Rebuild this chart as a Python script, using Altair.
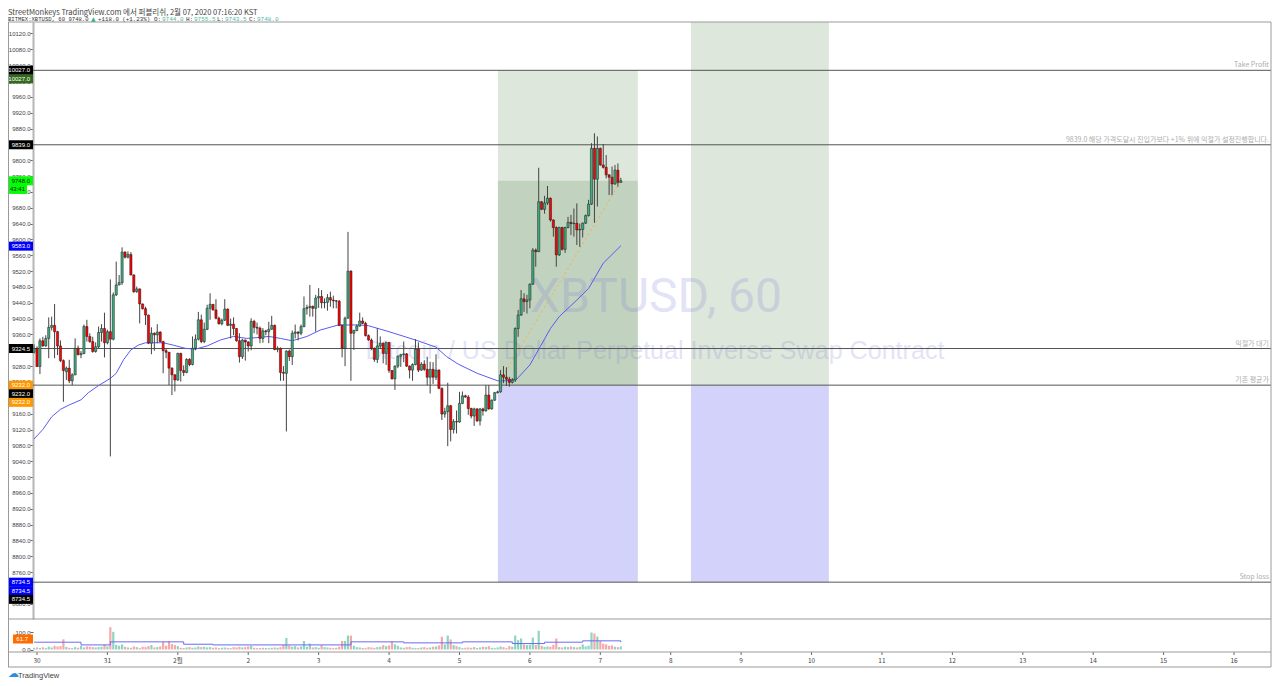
import altair as alt
import pandas as pd

OPEN = [
9315,9325,9279,9344,9331,9350,9378,9383,9367,9331,
9294,9266,9275,9243,9258,9325,9309,9312,9380,9355,
9342,9317,9329,9365,9375,9339,9367,9348,9460,9485,
9491,9568,9555,9562,9510,9468,9475,9437,9425,9409,
9338,9363,9359,9366,9342,9319,9315,9275,9258,9245,
9312,9269,9264,9297,9284,9325,9348,9397,9342,9373,
9426,9436,9422,9401,9387,9396,9424,9383,9386,9375,
9344,9304,9346,9341,9331,9393,9378,9376,9350,9369,
9367,9373,9383,9322,9325,9264,9262,9318,9304,9363,
9366,9363,9380,9425,9428,9431,9426,9452,9456,9440,
9441,9453,9447,9445,9444,9383,9325,9401,9520,9363,
9370,9381,9394,9388,9357,9346,9325,9297,9331,9338,
9312,9340,9269,9248,9280,9305,9309,9311,9280,9270,
9284,9323,9270,9285,9272,9252,9272,9252,9270,9224,
9159,9165,9180,9120,9140,9139,9186,9205,9202,9173,
9154,9172,9142,9172,9167,9207,9172,9194,9213,9215,
9258,9252,9247,9239,9245,9375,9409,9450,9443,9447,
9487,9573,9569,9695,9676,9692,9704,9649,9630,9561,
9630,9575,9630,9643,9640,9641,9624,9625,9641,9660,
9689,9830,9752,9830,9788,9782,9763,9757,9740,9775,9744]
HIGH = [
9335,9330,9350,9354,9358,9403,9405,9437,9369,9345,
9297,9279,9296,9262,9350,9332,9318,9385,9397,9363,
9354,9340,9380,9386,9415,9372,9499,9466,9544,9510,
9580,9570,9570,9568,9512,9481,9476,9438,9430,9410,
9378,9365,9386,9368,9344,9325,9316,9277,9260,9314,
9314,9282,9300,9300,9355,9360,9417,9410,9390,9435,
9464,9437,9449,9405,9400,9449,9426,9400,9403,9376,
9363,9349,9347,9343,9401,9397,9390,9380,9376,9372,
9392,9407,9385,9330,9327,9280,9320,9322,9370,9385,
9368,9385,9456,9435,9485,9433,9460,9477,9472,9451,
9462,9468,9458,9447,9447,9385,9405,9619,9522,9372,
9385,9415,9403,9392,9360,9350,9327,9376,9355,9340,
9342,9341,9270,9282,9307,9311,9342,9313,9282,9287,
9348,9340,9290,9295,9304,9291,9290,9310,9272,9226,
9175,9238,9182,9146,9168,9215,9216,9208,9207,9175,
9175,9174,9174,9175,9232,9232,9196,9215,9218,9270,
9280,9277,9253,9250,9378,9422,9472,9464,9460,9489,
9578,9577,9781,9697,9710,9735,9706,9651,9633,9632,
9632,9632,9657,9662,9678,9691,9640,9643,9663,9700,
9843,9868,9860,9832,9841,9813,9765,9784,9788,9792,9755.5]
LOW = [
9312,9278,9260,9329,9329,9300,9370,9300,9308,9290,
9190,9245,9237,9232,9257,9307,9300,9310,9342,9339,
9314,9314,9325,9342,9302,9335,9052,9345,9457,9484,
9485,9552,9552,9510,9465,9465,9388,9423,9384,9336,
9310,9319,9338,9340,9262,9300,9232,9207,9216,9243,
9241,9255,9262,9280,9282,9320,9345,9338,9338,9371,
9397,9420,9398,9385,9383,9394,9381,9350,9358,9342,
9289,9298,9294,9317,9320,9363,9360,9338,9339,9358,
9338,9372,9320,9315,9243,9243,9115,9293,9283,9350,
9345,9358,9378,9410,9405,9405,9367,9427,9426,9426,
9420,9430,9426,9426,9381,9302,9280,9400,9243,9321,
9368,9380,9386,9355,9344,9321,9291,9288,9323,9287,
9283,9263,9246,9220,9275,9278,9290,9278,9249,9243,
9282,9265,9268,9268,9232,9211,9235,9245,9222,9144,
9150,9078,9090,9110,9110,9137,9184,9200,9157,9148,
9129,9139,9130,9155,9165,9170,9170,9192,9211,9213,
9237,9230,9228,9236,9240,9354,9407,9417,9413,9426,
9485,9531,9568,9674,9665,9687,9645,9607,9531,9558,
9572,9566,9628,9611,9607,9586,9581,9605,9639,9658,
9687,9642,9683,9786,9779,9754,9712,9712,9738,9733,9743.5]
CLOSE = [
9325,9279,9344,9331,9350,9378,9383,9367,9331,9294,
9269,9275,9243,9258,9325,9309,9312,9380,9355,9342,
9317,9329,9365,9375,9339,9367,9348,9460,9485,9491,
9568,9555,9562,9510,9468,9475,9437,9425,9409,9338,
9363,9359,9366,9342,9319,9315,9275,9258,9245,9312,
9269,9264,9297,9284,9325,9348,9397,9342,9373,9426,
9436,9422,9401,9387,9396,9424,9383,9386,9375,9344,
9304,9346,9341,9331,9393,9378,9376,9350,9369,9367,
9373,9383,9322,9325,9264,9262,9318,9304,9363,9366,
9363,9380,9425,9428,9431,9426,9452,9456,9440,9441,
9453,9447,9445,9444,9383,9325,9401,9520,9363,9370,
9381,9394,9388,9357,9346,9325,9297,9331,9338,9312,
9340,9269,9248,9280,9305,9309,9311,9280,9270,9284,
9323,9270,9285,9272,9252,9272,9252,9270,9224,9159,
9165,9180,9120,9140,9139,9186,9205,9202,9173,9154,
9172,9142,9172,9167,9207,9172,9194,9213,9215,9258,
9252,9247,9239,9245,9375,9409,9450,9443,9447,9487,
9573,9569,9695,9676,9692,9704,9649,9630,9561,9630,
9575,9630,9643,9640,9641,9624,9625,9641,9660,9689,
9830,9752,9830,9788,9782,9763,9757,9740,9775,9744,9748]
VOLUME = [
10,12,9,13,8,17,12,22,18,20,
60,15,10,8,14,10,22,12,18,16,
14,12,14,16,30,18,131,104,28,22,
30,16,12,10,18,14,8,16,14,20,
26,12,14,18,45,22,48,32,26,20,
10,9,12,14,10,12,18,14,16,12,
14,10,12,8,10,12,10,8,14,12,
16,12,14,18,22,10,8,9,10,9,
8,10,12,10,14,28,68,24,16,20,
12,18,50,16,35,12,14,10,26,14,
12,10,8,10,16,50,50,82,82,22,
14,12,9,8,14,12,10,14,16,26,
20,24,49,30,22,12,10,14,16,10,
8,9,12,14,10,12,16,18,24,75,
30,82,59,26,20,14,8,10,12,10,
14,9,12,16,14,20,10,8,12,18,
14,8,20,16,82,55,65,30,26,28,
70,26,110,22,14,18,16,28,65,14,
12,16,14,18,14,12,16,30,18,22,
100,94,76,50,34,30,22,24,16,14,18]
HOURS = list(range(-1, 200))

MA_HOUR = [-1,2,5,8,11,15,17.5,21,25,27,29.5,32,34.5,37,43,46.5,50.5,54,58,62.5,67,71.5,
           75,79,83,87,92,96.5,102.7,110,113,120,129,136,139.6,143.6,150,157,160,163.5,168,171.5,175,178,184,188,193,199]
MA_PRICE = [9096,9120,9152,9171,9182,9195,9213,9231,9249,9262,9296,9321,9333,9339,9339,9333,9325,9323,9331,9346,9355,9350,
            9352,9355,9350,9344,9355,9371,9384,9384,9382,9367,9346,9328,9304,9285,9262,9243,9243,9247,9283,9329,9375,9405,9447,9476,9540,9584]

VMA_HOUR = [-1,15,25,42,50,60,85,107,125,145,162,173,186,190,199]
VMA_VALUE = [43,27,45,45,31,27,27,45,39,45,35,43,51,51,43]

TREND_HOUR = [157, 199]
TREND_PRICE = [9232, 9748]

ZONE_X = [157.1, 157.1, 157.1, 222.9, 222.9]
ZONE_X2 = [204.8, 204.8, 204.8, 269.9, 269.9]
ZONE_LOW = [9232, 9232, 8734.5, 9232, 8734.5]
ZONE_HIGH = [10027, 9748, 9232, 10149, 9232]
ZONE_KIND = ["profit", "profit", "loss", "profit", "loss"]

LEVELS = [10027, 9839, 9324.5, 9232, 8734.5]
LEVEL_NOTE = ["Take Profit", "9839.0 해당 가격도달시 진입가보다 +1% 위에 익절가 설정진행합니다.", "익절가 대기", "기존 평균가", "Stop loss"]

TAG_PRICE = [10027, 10027, 9839, 9748, 9748, 9583, 9324.5, 9232, 9232, 9232, 8734.5, 8734.5, 8734.5]
TAG_TEXT = ["10027.0", "10027.0", "9839.0", "9748.0", "43:41", "9583.0", "9324.5", "9232.0", "9232.0", "9232.0", "8734.5", "8734.5", "8734.5"]
TAG_SLOT = [0, 1, 0, 0, 1, 0, 0, 0, 1, 2, 0, 1, 2]
TAG_FILL = ["#000000", "#33691e", "#000000", "#00ff00", "#00ff00", "#0000ff", "#000000", "#ff9800", "#000000", "#ff9800", "#0000ff", "#0000ff", "#000000"]
TAG_INK = ["#ffffff", "#ffffff", "#ffffff", "#111111", "#111111", "#ffffff", "#ffffff", "#ffffff", "#ffffff", "#ffffff", "#ffffff", "#ffffff", "#ffffff"]

DAY_HOURS = [24 * k for k in range(18)]
DAY_LABELS = ["30", "31", "2월", "2", "3", "4", "5", "6", "7", "8", "9", "10", "11", "12", "13", "14", "15", "16"]
PRICE_TICKS = list(range(8680, 10121, 40))
VOLUME_TICKS = [0, 100]

W, H = 1238, 630
PRICE_H = 597
LEFT = -25
FONT = "Liberation Sans"
KR = "Noto Sans CJK KR"
MONO = "Liberation Mono"

df = pd.DataFrame({"i": HOURS, "o": OPEN, "h": HIGH, "l": LOW, "c": CLOSE, "v": VOLUME})
df["up"] = df["c"] >= df["o"]

xs = alt.Scale(domain=[-1.36, 420.6], nice=False, zero=False, padding=0)
ys = alt.Scale(domain=[8641.5, 10149], range=[PRICE_H, 0], nice=False, zero=False)
vs = alt.Scale(domain=[-14.7, 179.4], range=[H, PRICE_H], nice=False, zero=False)


def X(field="i"):
    return alt.X(f"{field}:Q", scale=xs, axis=None, title=None)


def Y(field, scale=ys):
    return alt.Y(f"{field}:Q", scale=scale, axis=None, title=None)


one = alt.Data(values=[{}])


def note(text, x, y, size=7, color="#333333", font=MONO, align="left", opacity=1):
    return alt.Chart(one).mark_text(align=align, baseline="middle", font=font, fontSize=size,
                                    color=color, opacity=opacity).encode(
        x=alt.value(x), y=alt.value(y), text=alt.value(text))


layers = []

# price axis (carries no marks of its own)
axis_df = pd.DataFrame({"p": PRICE_TICKS})
layers.append(alt.Chart(axis_df).mark_rule(opacity=0).encode(
    y=alt.Y("p:Q", scale=ys, title=None,
            axis=alt.Axis(values=PRICE_TICKS, format=".1f", grid=False, tickSize=3, tickColor="#666666",
                          domainColor="#b5b5b5", domainWidth=2, labelFontSize=6, labelFont=FONT,
                          labelColor="#444444", labelPadding=0, labelOverlap=False, labelBound=False))))

# time axis, as labelled ticks on the shared x scale
day_df = pd.DataFrame({"d": DAY_HOURS, "t": DAY_LABELS})
layers.append(alt.Chart(day_df).mark_rule(color="#666666", strokeWidth=1).encode(
    x=X("d"), y=alt.value(H), y2=alt.value(H + 3)))
layers.append(alt.Chart(day_df).mark_text(font=KR, fontSize=6.5, color="#444444", baseline="middle").encode(
    x=X("d"), y=alt.value(H + 8.5), text="t:N"))

# zones
zones = pd.DataFrame({"x": ZONE_X, "x2": ZONE_X2, "lo": ZONE_LOW, "hi": ZONE_HIGH, "kind": ZONE_KIND})
layers.append(alt.Chart(zones).mark_rect(opacity=0.2).encode(
    x=X("x"), x2="x2:Q", y=Y("lo"), y2="hi:Q",
    color=alt.condition("datum.kind == 'profit'", alt.value("#55874b"), alt.value("#1e1ee6"))))

# watermark
layers.append(note("XBTUSD, 60", 623, 276, size=48, color="#7878d8", font="Roboto", align="center", opacity=0.2))
layers.append(note("Bitcoin / US Dollar Perpetual Inverse Swap Contract", 622, 329, size=25.1, color="#7878d8", font=FONT, align="center", opacity=0.2))

# levels
layers.append(alt.Chart(pd.DataFrame({"p": LEVELS})).mark_rule(color="#555555", strokeWidth=1).encode(y=Y("p")))
layers.append(alt.Chart(pd.DataFrame({"p": LEVELS, "t": LEVEL_NOTE})).mark_text(
    align="right", baseline="middle", dy=-5, font=KR, fontSize=7, color="#adadad").encode(
    x=alt.value(W - 2), y=Y("p"), text="t:N"))

# moving average and trend
layers.append(alt.Chart(pd.DataFrame({"i": MA_HOUR, "m": MA_PRICE})).mark_line(color="#5a5af5", strokeWidth=1).encode(x=X(), y=Y("m")))
layers.append(alt.Chart(pd.DataFrame({"i": TREND_HOUR, "m": TREND_PRICE})).mark_line(color="#f5b041", strokeWidth=1, strokeDash=[2, 3]).encode(x=X(), y=Y("m")))

# candles
layers.append(alt.Chart(df).mark_rule(color="#444444", strokeWidth=1).encode(x=X(), y=Y("l"), y2="h:Q"))
layers.append(alt.Chart(df).mark_bar(size=2.2, stroke="#1a1a1a", strokeWidth=0.5).encode(
    x=X(), y=Y("o"), y2="c:Q",
    color=alt.condition("datum.up", alt.value("#3fae82"), alt.value("#ff0000"))))

# volume
layers.append(alt.Chart(df).mark_bar(size=2.2).encode(
    x=X(), y=alt.Y("v:Q", scale=vs, title=None, axis=alt.Axis(
        orient="left", values=VOLUME_TICKS, format=".1f", grid=False, tickSize=3, tickColor="#666666", domain=False,
        labelFontSize=6, labelFont=FONT, labelColor="#444444", labelPadding=0)),
    y2=alt.Y2(datum=0),
    color=alt.condition("datum.up", alt.value("#8fd3c3"), alt.value("#f5a9a9"))))
layers.append(alt.Chart(pd.DataFrame({"i": VMA_HOUR, "m": VMA_VALUE})).mark_line(color="#6a6af5", strokeWidth=1, interpolate="step-after").encode(x=X(), y=Y("m", vs)))

# price tags
for p, t, slot, fill, ink in zip(TAG_PRICE, TAG_TEXT, TAG_SLOT, TAG_FILL, TAG_INK):
    row = alt.Data(values=[{"p": p, "t": t}])
    short = t == "43:41"
    layers.append(alt.Chart(row).mark_rule(strokeWidth=9, color=fill, yOffset=slot * 8.6).encode(
        x=alt.value(LEFT), x2=alt.value(-6 if short else 0), y=Y("p")))
    layers.append(alt.Chart(row).mark_text(align="right", baseline="middle", dy=slot * 8.6, font=FONT,
                                           fontSize=6, color=ink).encode(
        x=alt.value(-8 if short else -3), y=Y("p"), text="t:N"))

vol_row = alt.Data(values=[{"v": 61.7, "t": "61.7"}])
layers.append(alt.Chart(vol_row).mark_rule(strokeWidth=9, color="#ff6d00").encode(
    x=alt.value(-20), x2=alt.value(0), y=Y("v", vs)))
layers.append(alt.Chart(vol_row).mark_text(align="right", baseline="middle", font=FONT, fontSize=6, color="#ffffff").encode(
    x=alt.value(-5), y=Y("v", vs), text="t:N"))

# frame lines
frame = "#9a9a9a"
for spec in [
    dict(x=alt.value(LEFT), x2=alt.value(W), y=alt.value(0)),
    dict(x=alt.value(LEFT), x2=alt.value(W), y=alt.value(PRICE_H)),
    dict(x=alt.value(LEFT), x2=alt.value(W), y=alt.value(H)),
    dict(x=alt.value(LEFT), x2=alt.value(W), y=alt.value(H + 15)),
    dict(y=alt.value(0), y2=alt.value(H + 15), x=alt.value(LEFT + 0.5)),
    dict(y=alt.value(0), y2=alt.value(H + 15), x=alt.value(W)),
]:
    layers.append(alt.Chart(one).mark_rule(color=frame, strokeWidth=1).encode(**spec))

# header and footer text
layers.append(note("StreetMonkeys TradingView.com 에서 퍼블리쉬, 2월 07, 2020 07:16:20 KST", LEFT, -9, size=7.5, font=KR, color="#444444"))
layers.append(note("BITMEX:XBTUSD, 60 9748.0", LEFT, -3, size=5.6))
layers.append(note("▲", 58, -3, size=6, color="#3fae82", font="DejaVu Sans"))
layers.append(note("+118.0 (+1.23%)", 65, -3, size=5.8))
TEAL = "#53b9a5"
for lab, val, x in [("O:", "9744.0", 121), ("H:", "9755.5", 153), ("L:", "9743.5", 184), ("C:", "9748.0", 216)]:
    layers.append(note(lab, x, -3, size=6))
    layers.append(note(val, x + 8, -3, size=6, color=TEAL))
layers.append(note("☁", LEFT, 652, size=11, color="#2a8fe0", font="DejaVu Sans"))
layers.append(note("TradingView", -15, 654, size=7.5, color="#444444", font=FONT))

chart = alt.layer(*layers).resolve_scale(y="independent").properties(
    width=W, height=H,
    padding={"left": 25, "top": 14, "right": 1, "bottom": 28},
    autosize=alt.AutoSizeParams(type="none", contains="content"),
).configure_view(stroke=None)

chart.save("out.html", embed_options={"renderer": "svg", "actions": False})
